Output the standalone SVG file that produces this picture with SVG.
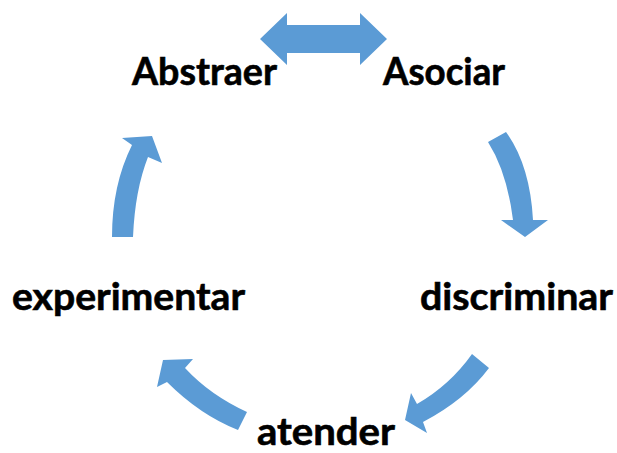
<svg xmlns="http://www.w3.org/2000/svg" width="617" height="453" viewBox="0 0 617 453">
<style>
.lbl{font-family:Lato,"Open Sans","Liberation Sans",sans-serif;font-weight:700;font-size:38px;fill:#000;stroke:#000;stroke-width:0.6px}
.arr{fill:#5B9BD5}
</style>
<rect width="617" height="453" fill="#fff"/>
<g id="connectors">
<path class="arr" d="M260,39 L287,13 L287,25 L360,25 L360,13 L387,39 L360,65 L360,53 L287,53 L287,65 Z"/>
<path class="arr" d="M488,142 Q507,172 513,220 L501,220 L525,237 L548,220 L533,220 Q530,165 506,132 Z"/>
<path class="arr" d="M472,354 Q450,385 417,404 L411,393 L405,420 L427,433 L423,422 Q465,400 489,368 Z"/>
<path class="arr" d="M247,412 Q210,395 185,368 L193,359 L163,360 L157,387 L167,382 Q200,415 238,430 Z"/>
<path class="arr" d="M112,237 Q112,185 132,145 L122,138 L152,136 L162,163 L148,157 Q135,190 133,237 Z"/>
</g>
<g id="abstraer"><text class="lbl" x="132" y="85" textLength="145" lengthAdjust="spacingAndGlyphs">Abstraer</text></g>
<g id="asociar"><text class="lbl" x="383" y="85" textLength="122" lengthAdjust="spacingAndGlyphs">Asociar</text></g>
<g id="experimentar"><text class="lbl" x="12" y="310" textLength="233" lengthAdjust="spacingAndGlyphs">experimentar</text></g>
<g id="discriminar"><text class="lbl" x="420" y="310" textLength="193" lengthAdjust="spacingAndGlyphs">discriminar</text></g>
<g id="atender"><text class="lbl" x="257" y="445" textLength="138" lengthAdjust="spacingAndGlyphs">atender</text></g>
</svg>
